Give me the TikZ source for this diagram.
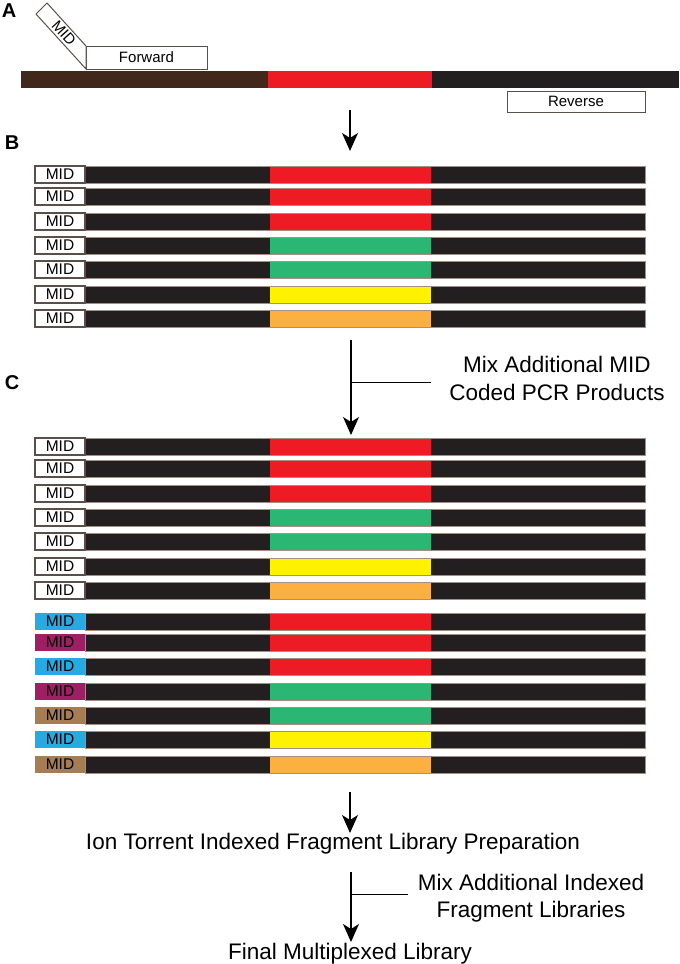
\documentclass[tikz,border=0pt]{standalone}
\usepackage{fontspec}
\setmainfont{Liberation Sans}
\usetikzlibrary{arrows.meta}

\definecolor{strand}{HTML}{231F20}
\definecolor{strandA}{HTML}{41281A}
\definecolor{ampred}{HTML}{ED1C24}
\definecolor{ampgreen}{HTML}{2BB673}
\definecolor{ampyellow}{HTML}{FFF200}
\definecolor{amporange}{HTML}{FBB040}
\definecolor{midcyan}{HTML}{27AAE1}
\definecolor{midpurple}{HTML}{9E1F63}
\definecolor{midtan}{HTML}{A67C52}
\definecolor{edge}{HTML}{A39080}
\definecolor{boxline}{HTML}{5A5049}

\tikzset{
  midbox/.style={minimum width=50pt, minimum height=17pt, inner sep=0pt,
    line width=1.2pt, font=\fontsize{15.5}{16}\selectfont},
  midw/.style={midbox, draw=boxline, fill=white},
  midc/.style={midbox, fill=midcyan},
  midp/.style={midbox, fill=midpurple},
  midt/.style={midbox, fill=midtan},
  primer/.style={draw=boxline, line width=1pt, fill=white, inner sep=0pt,
    font=\fontsize{15}{16}\selectfont},
  panel/.style={font=\bfseries\fontsize{20}{21}\selectfont},
  caption/.style={font=\fontsize{22.5}{28}\selectfont, align=center},
  arr/.style={-{Stealth[length=18pt, width=16pt, inset=5pt]}, line width=1.2pt},
  branch/.style={line width=1pt}
}

% one amplicon: name, top, amplicon colour, MID style
\newcommand{\amprow}[4]{
  \fill[strand] (85,#2) rectangle (645,#2+17);
  \fill[#3] (270,#2) rectangle (431,#2+17);
  \draw[edge, line width=0.5pt] (85,#2) rectangle (645,#2+17);
  \node[#4] (#1) at (60,#2+8.5) {MID};
}

\begin{document}
\begin{tikzpicture}[x=1pt, y=-1pt]

    \useasboundingbox (0,0) rectangle (680,964);

    % A
    \node[panel] (labA) at (9,11) {A};

    \fill[strandA] (21,71) rectangle (268,88);
    \fill[ampred] (268,71) rectangle (432,88);
    \fill[strand] (432,71) rectangle (679,88);

    \node[primer, minimum width=121pt, minimum height=23pt] (fwd) at (146.5,57.5)
        {Forward};
    \node[primer, minimum width=138pt, minimum height=21pt] (rev) at (576,101.5)
        {Reverse};

    \draw[boxline, line width=1pt, fill=white]
        (86,69) -- (36,14) -- (47,3) -- (86,46) -- cycle;
    \node[font=\fontsize{15}{16}\selectfont, inner sep=0pt, rotate=-48]
        (midA) at (64,33) {MID};

    \coordinate (s1) at (350,110);
    \coordinate (e1) at (350,151);
    \draw[arr] (s1) -- (e1);

    % B
    \node[panel] (labB) at (12,143) {B};

    \foreach \y/\c [count=\i] in {166/ampred, 188/ampred, 213/ampred,
        237/ampgreen, 261/ampgreen, 286/ampyellow, 310/amporange}
        {\amprow{midB\i}{\y}{\c}{midw}}

    \coordinate (s2) at (351,340);
    \coordinate (e2) at (351,435);
    \coordinate (b2) at (351,382);
    \coordinate (t2) at (431,382);
    \draw[arr] (s2) -- (e2);
    \draw[branch] (b2) -- (t2);

    \node[caption] (mixMID) at (557,378)
        {Mix Additional MID\\Coded PCR Products};

    % C
    \node[panel] (labC) at (12,383) {C};

    \foreach \y/\c [count=\i] in {438/ampred, 460/ampred, 485/ampred,
        509/ampgreen, 533/ampgreen, 558/ampyellow, 582/amporange}
        {\amprow{midC\i}{\y}{\c}{midw}}

    \foreach \y/\c/\m [count=\i] in {613/ampred/midc, 634/ampred/midp,
        658/ampred/midc, 683/ampgreen/midp, 707/ampgreen/midt,
        731/ampyellow/midc, 756/amporange/midt}
        {\amprow{midD\i}{\y}{\c}{\m}}

    \coordinate (s3) at (350,792);
    \coordinate (e3) at (350,833);
    \draw[arr] (s3) -- (e3);

    \node[caption] (ion) at (333,844)
        {Ion Torrent Indexed Fragment Library Preparation};

    \coordinate (s4) at (351,872);
    \coordinate (e4) at (351,942);
    \coordinate (b4) at (351,894);
    \coordinate (t4) at (408,894);
    \draw[arr] (s4) -- (e4);
    \draw[branch] (b4) -- (t4);

    \node[caption, font=\fontsize{22.5}{27}\selectfont] (mixIdx) at (531,898)
        {Mix Additional Indexed\\Fragment Libraries};

    \node[caption] (final) at (350,954) {Final Multiplexed Library};

\end{tikzpicture}
\end{document}
